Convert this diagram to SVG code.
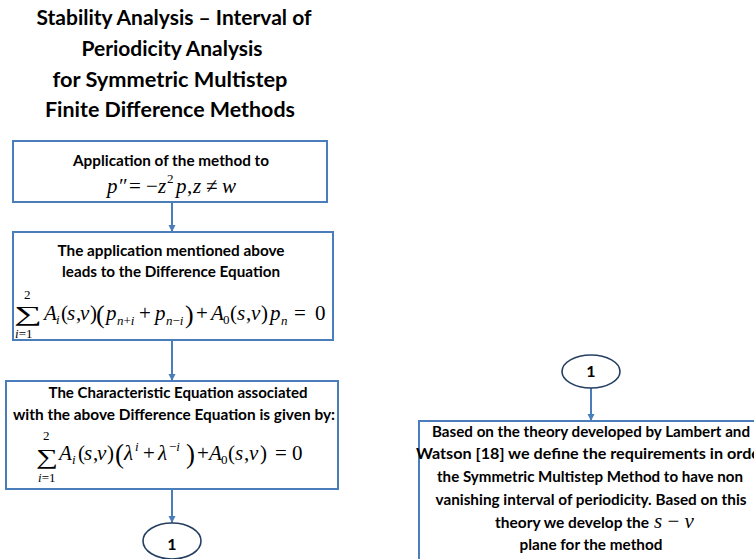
<svg xmlns="http://www.w3.org/2000/svg" width="754" height="559" viewBox="0 0 754 559">
<style>
.box{fill:#fff;stroke:#4a7ebb;stroke-width:2}
.ell{fill:#fff;stroke:#243f60;stroke-width:1.6}
.t{font-family:Lato,"Liberation Sans",Arial,sans-serif;font-weight:bold;fill:#000}
.title{font-size:20px}
.lbl{font-size:14.5px}
.m{font-family:"Liberation Serif","Times New Roman",serif;fill:#000;font-size:21px}
.i{font-style:italic}
.s{font-size:13px}
.conn line{stroke:#4a7ebb;stroke-width:2}
</style>
<defs>
<marker id="ah" markerUnits="userSpaceOnUse" markerWidth="8" markerHeight="8" refX="7" refY="4" orient="auto" viewBox="0 0 8 8">
<path d="M0,0.5 L7,4 L0,7.5 z" fill="#4a7ebb"/>
</marker>
</defs>
<rect width="754" height="559" fill="#fff"/>
<g id="title" class="t title" text-anchor="middle">
<text x="174" y="25" textLength="275" lengthAdjust="spacingAndGlyphs">Stability Analysis – Interval of</text>
<text x="172" y="56" textLength="181" lengthAdjust="spacingAndGlyphs">Periodicity Analysis</text>
<text x="170" y="87" textLength="235" lengthAdjust="spacingAndGlyphs">for Symmetric Multistep</text>
<text x="170" y="117" textLength="250" lengthAdjust="spacingAndGlyphs">Finite Difference Methods</text>
</g>
<g class="conn">
<line x1="172" y1="202" x2="172" y2="232" marker-end="url(#ah)"/>
<line x1="172" y1="340" x2="172" y2="381" marker-end="url(#ah)"/>
<line x1="172" y1="489" x2="172" y2="523" marker-end="url(#ah)"/>
<line x1="591" y1="388" x2="591" y2="421" marker-end="url(#ah)"/>
</g>
<g id="n1">
<rect class="box" x="13" y="141" width="314" height="61"/>
<text class="t lbl" x="171" y="166" text-anchor="middle" textLength="196" lengthAdjust="spacingAndGlyphs">Application of the method to</text>
<text class="m" font-size="22"><tspan class="i" x="107" y="193">p</tspan><tspan x="119">″</tspan><tspan x="129">=</tspan><tspan x="146">−</tspan><tspan class="i" x="158">z</tspan><tspan class="s" x="167" y="183">2</tspan><tspan class="i" x="176" y="193">p</tspan><tspan x="187">,</tspan><tspan class="i" x="193">z</tspan><tspan x="206">≠</tspan><tspan class="i" x="222">w</tspan></text>
</g>
<g id="n2">
<rect class="box" x="13" y="232" width="320" height="108"/>
<text class="t lbl" x="171" y="256" text-anchor="middle" textLength="227" lengthAdjust="spacingAndGlyphs">The application mentioned above</text>
<text class="t lbl" x="171" y="277" text-anchor="middle" textLength="218" lengthAdjust="spacingAndGlyphs">leads to the Difference Equation</text>
<text class="m" x="14" y="321" font-size="28" textLength="28" lengthAdjust="spacingAndGlyphs">∑</text>
<text class="m"><tspan class="s" x="24" y="299">2</tspan><tspan class="s i" x="15" y="338">i</tspan><tspan class="s">=1</tspan><tspan class="i" x="44" y="320">A</tspan><tspan class="s i" x="56" y="324">i</tspan><tspan x="61" y="320">(</tspan><tspan class="i" x="67">s</tspan><tspan x="76">,</tspan><tspan class="i" x="80">v</tspan><tspan x="90">)</tspan><tspan x="96" font-size="26" y="323">(</tspan><tspan class="i" x="106" y="320">p</tspan><tspan class="s i" x="117" y="325">n</tspan><tspan class="s">+</tspan><tspan class="s i">i</tspan><tspan x="139" y="320">+</tspan><tspan class="i" x="155">p</tspan><tspan class="s i" x="166" y="325">n</tspan><tspan class="s">−</tspan><tspan class="s i">i</tspan><tspan x="185" font-size="26" y="323">)</tspan><tspan x="196" y="320">+</tspan><tspan class="i" x="211">A</tspan><tspan class="s" x="223" y="324">0</tspan><tspan x="230" y="320">(</tspan><tspan class="i" x="237">s</tspan><tspan x="246">,</tspan><tspan class="i" x="251">v</tspan><tspan x="261">)</tspan><tspan class="i" x="270">p</tspan><tspan class="s i" x="281" y="325">n</tspan><tspan x="294" y="320">=</tspan><tspan x="315">0</tspan></text>
</g>
<g id="n3">
<rect class="box" x="6" y="381" width="332" height="108"/>
<text class="t lbl" x="178" y="398" text-anchor="middle" textLength="259" lengthAdjust="spacingAndGlyphs">The Characteristic Equation associated</text>
<text class="t lbl" x="174" y="420" text-anchor="middle" textLength="322" lengthAdjust="spacingAndGlyphs">with the above Difference Equation is given by:</text>
<text class="m" x="36" y="464" font-size="26" textLength="22" lengthAdjust="spacingAndGlyphs">∑</text>
<text class="m"><tspan class="s" x="43" y="440" font-size="12">2</tspan><tspan class="s i" x="38" y="482">i</tspan><tspan class="s">=1</tspan><tspan class="i" x="59" y="460">A</tspan><tspan class="s i" x="72" y="464">i</tspan><tspan x="78" y="460">(</tspan><tspan class="i" x="84">s</tspan><tspan x="93">,</tspan><tspan class="i" x="97">v</tspan><tspan x="107">)</tspan><tspan x="115" font-size="27" y="463">(</tspan><tspan class="i" x="124" y="460">λ</tspan><tspan class="s i" x="135" y="451">i</tspan><tspan x="143" y="460">+</tspan><tspan class="i" x="158">λ</tspan><tspan class="s" x="169" y="451">−</tspan><tspan class="s i">i</tspan><tspan x="186" font-size="27" y="463">)</tspan><tspan x="197" y="460">+</tspan><tspan class="i" x="209">A</tspan><tspan class="s" x="221" y="464">0</tspan><tspan x="228" y="460">(</tspan><tspan class="i" x="235">s</tspan><tspan x="244">,</tspan><tspan class="i" x="249">v</tspan><tspan x="260">)</tspan><tspan x="275">=</tspan><tspan x="292">0</tspan></text>
</g>
<g id="c1">
<ellipse class="ell" cx="172" cy="541" rx="29" ry="18"/>
<text class="t" font-size="16" x="172" y="550" text-anchor="middle">1</text>
</g>
<g id="c2">
<ellipse class="ell" cx="591" cy="371.5" rx="29" ry="16.5"/>
<text class="t" font-size="16" x="591" y="377" text-anchor="middle">1</text>
</g>
<g id="n4">
<rect class="box" x="419" y="421" width="345" height="150"/>
<g class="t" font-size="15" text-anchor="middle">
<text x="591" y="437" textLength="318" lengthAdjust="spacingAndGlyphs">Based on the theory developed by Lambert and</text>
<text x="591" y="459" textLength="350" lengthAdjust="spacingAndGlyphs">Watson [18] we define the requirements in order</text>
<text x="590" y="482" textLength="306" lengthAdjust="spacingAndGlyphs">the Symmetric Multistep Method to have non</text>
<text x="591" y="505" textLength="311" lengthAdjust="spacingAndGlyphs">vanishing interval of periodicity. Based on this</text>
<text x="591" y="550" textLength="143" lengthAdjust="spacingAndGlyphs">plane for the method</text>
</g>
<text class="t" font-size="15" x="495" y="528" textLength="154" lengthAdjust="spacingAndGlyphs">theory we develop the</text>
<text class="m i" font-size="20" x="654" y="528">s <tspan font-style="normal">−</tspan> v</text>
</g>
</svg>
